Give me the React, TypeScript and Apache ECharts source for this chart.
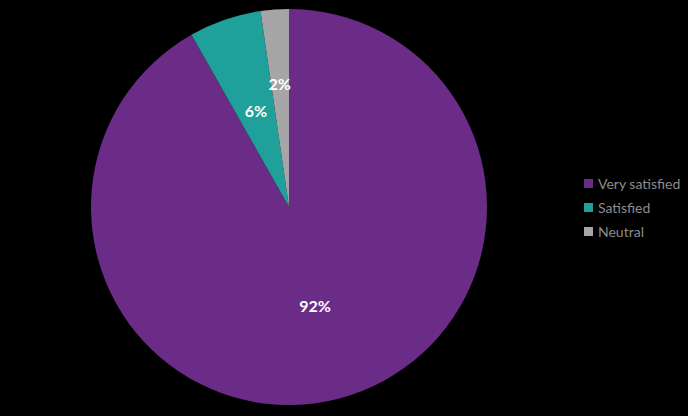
import React, { useEffect, useRef } from "react";
import * as echarts from "echarts";

const categories = ["Very satisfied", "Satisfied", "Neutral"];
const values = [91.8, 5.9, 2.3];
const colors = ["#6A2C86", "#1FA09A", "#A6A6A6"];

export default function App() {
  const ref = useRef<HTMLDivElement>(null);
  useEffect(() => {
    document.body.style.margin = "0";
    const chart = echarts.init(ref.current!, null, { renderer: "svg" });
    chart.setOption({
      animation: false,
      backgroundColor: "#000000",
      color: colors,
      legend: {
        orient: "vertical",
        left: 579,
        top: 171,
        itemWidth: 9,
        itemHeight: 9,
        itemGap: 9,
        icon: "rect",
        data: categories,
        textStyle: { color: "#8C8C8C", fontFamily: "Lato", fontSize: 14, lineHeight: 15 },
      },
      series: [
        {
          type: "pie",
          center: [289, 207],
          radius: [0, 198],
          startAngle: 90,
          clockwise: true,
          label: {
            position: "inner",
            formatter: (p: any) => Math.round(p.percent) + "%",
            color: "#FFFFFF",
            fontFamily: "Lato",
            fontWeight: "bold",
            fontSize: 16,
          },
          labelLine: { show: false },
          labelLayout: (p: any) => (p.dataIndex === 2 ? { dy: -22, dx: -2 } : {}),
          itemStyle: { borderWidth: 0 },
          emphasis: { disabled: true },
          data: categories.map((c, i) => ({ name: c, value: values[i] })),
        },
      ],
    });
    return () => chart.dispose();
  }, []);
  return (
    <div
      ref={ref}
      style={{ position: "absolute", left: 0, top: 0, width: 688, height: 416 }}
    />
  );
}
